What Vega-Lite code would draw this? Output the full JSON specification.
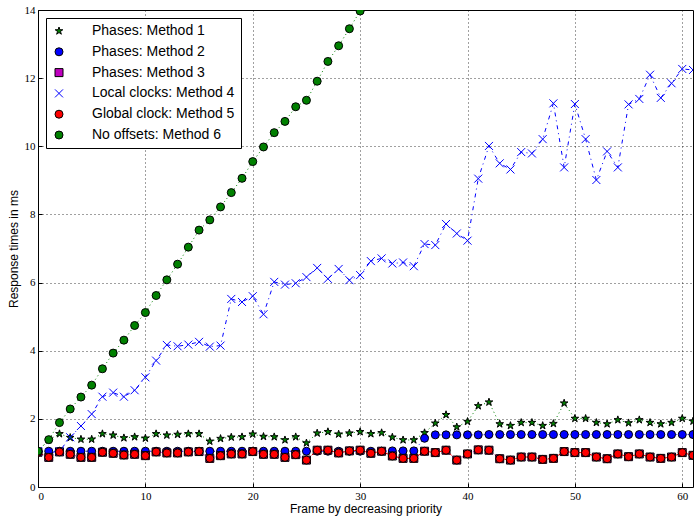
{
  "$schema": "https://vega.github.io/schema/vega-lite/v6.json",
  "width": 655,
  "height": 477,
  "autosize": {"type": "none"},
  "padding": {"left": 38, "top": 10, "right": 4, "bottom": 29},
  "background": "white",
  "config": {
    "view": {"stroke": "black", "strokeWidth": 1},
    "axis": {
      "grid": true,
      "gridColor": "#000000",
      "gridDash": [1, 3],
      "gridOpacity": 0.75,
      "gridWidth": 1,
      "domain": false,
      "ticks": true,
      "tickColor": "black",
      "tickSize": -4,
      "labelFont": "Liberation Serif",
      "labelFontSize": 11,
      "labelColor": "black",
      "titleFont": "Liberation Sans",
      "titleFontSize": 12,
      "titleFontWeight": "normal",
      "titleColor": "black"
    },
    "legend": {
      "orient": "top-left",
      "offset": 8,
      "padding": 6,
      "fillColor": "white",
      "strokeColor": "black",
      "strokeWidth": 1,
      "labelFont": "Liberation Sans",
      "labelFontSize": 14,
      "labelColor": "black",
      "labelOffset": 26,
      "symbolSize": 64,
      "symbolStrokeWidth": 1,
      "rowPadding": 6.8,
      "labelLimit": 300
    }
  },
  "datasets": {
    "times": [
      {"frame": 0, "method": "Phases: Method 1", "ms": 1.05},
      {"frame": 1, "method": "Phases: Method 1", "ms": 1.38},
      {"frame": 2, "method": "Phases: Method 1", "ms": 1.56},
      {"frame": 3, "method": "Phases: Method 1", "ms": 1.45},
      {"frame": 4, "method": "Phases: Method 1", "ms": 1.40},
      {"frame": 5, "method": "Phases: Method 1", "ms": 1.40},
      {"frame": 6, "method": "Phases: Method 1", "ms": 1.56},
      {"frame": 7, "method": "Phases: Method 1", "ms": 1.52},
      {"frame": 8, "method": "Phases: Method 1", "ms": 1.44},
      {"frame": 9, "method": "Phases: Method 1", "ms": 1.47},
      {"frame": 10, "method": "Phases: Method 1", "ms": 1.43},
      {"frame": 11, "method": "Phases: Method 1", "ms": 1.56},
      {"frame": 12, "method": "Phases: Method 1", "ms": 1.52},
      {"frame": 13, "method": "Phases: Method 1", "ms": 1.54},
      {"frame": 14, "method": "Phases: Method 1", "ms": 1.56},
      {"frame": 15, "method": "Phases: Method 1", "ms": 1.56},
      {"frame": 16, "method": "Phases: Method 1", "ms": 1.34},
      {"frame": 17, "method": "Phases: Method 1", "ms": 1.42},
      {"frame": 18, "method": "Phases: Method 1", "ms": 1.46},
      {"frame": 19, "method": "Phases: Method 1", "ms": 1.47},
      {"frame": 20, "method": "Phases: Method 1", "ms": 1.55},
      {"frame": 21, "method": "Phases: Method 1", "ms": 1.48},
      {"frame": 22, "method": "Phases: Method 1", "ms": 1.47},
      {"frame": 23, "method": "Phases: Method 1", "ms": 1.38},
      {"frame": 24, "method": "Phases: Method 1", "ms": 1.47},
      {"frame": 25, "method": "Phases: Method 1", "ms": 1.29},
      {"frame": 26, "method": "Phases: Method 1", "ms": 1.58},
      {"frame": 27, "method": "Phases: Method 1", "ms": 1.62},
      {"frame": 28, "method": "Phases: Method 1", "ms": 1.55},
      {"frame": 29, "method": "Phases: Method 1", "ms": 1.58},
      {"frame": 30, "method": "Phases: Method 1", "ms": 1.62},
      {"frame": 31, "method": "Phases: Method 1", "ms": 1.56},
      {"frame": 32, "method": "Phases: Method 1", "ms": 1.59},
      {"frame": 33, "method": "Phases: Method 1", "ms": 1.46},
      {"frame": 34, "method": "Phases: Method 1", "ms": 1.38},
      {"frame": 35, "method": "Phases: Method 1", "ms": 1.38},
      {"frame": 36, "method": "Phases: Method 1", "ms": 1.59},
      {"frame": 37, "method": "Phases: Method 1", "ms": 1.87},
      {"frame": 38, "method": "Phases: Method 1", "ms": 2.12},
      {"frame": 39, "method": "Phases: Method 1", "ms": 1.76},
      {"frame": 40, "method": "Phases: Method 1", "ms": 1.92},
      {"frame": 41, "method": "Phases: Method 1", "ms": 2.38},
      {"frame": 42, "method": "Phases: Method 1", "ms": 2.49},
      {"frame": 43, "method": "Phases: Method 1", "ms": 1.85},
      {"frame": 44, "method": "Phases: Method 1", "ms": 1.80},
      {"frame": 45, "method": "Phases: Method 1", "ms": 1.89},
      {"frame": 46, "method": "Phases: Method 1", "ms": 1.89},
      {"frame": 47, "method": "Phases: Method 1", "ms": 1.80},
      {"frame": 48, "method": "Phases: Method 1", "ms": 1.86},
      {"frame": 49, "method": "Phases: Method 1", "ms": 2.46},
      {"frame": 50, "method": "Phases: Method 1", "ms": 2.01},
      {"frame": 51, "method": "Phases: Method 1", "ms": 2.01},
      {"frame": 52, "method": "Phases: Method 1", "ms": 1.89},
      {"frame": 53, "method": "Phases: Method 1", "ms": 1.85},
      {"frame": 54, "method": "Phases: Method 1", "ms": 1.97},
      {"frame": 55, "method": "Phases: Method 1", "ms": 1.88},
      {"frame": 56, "method": "Phases: Method 1", "ms": 1.97},
      {"frame": 57, "method": "Phases: Method 1", "ms": 1.89},
      {"frame": 58, "method": "Phases: Method 1", "ms": 1.85},
      {"frame": 59, "method": "Phases: Method 1", "ms": 1.89},
      {"frame": 60, "method": "Phases: Method 1", "ms": 2.01},
      {"frame": 61, "method": "Phases: Method 1", "ms": 1.93},

      {"frame": 0, "method": "Phases: Method 2", "ms": 1.05},
      {"frame": 1, "method": "Phases: Method 2", "ms": 1.05},
      {"frame": 2, "method": "Phases: Method 2", "ms": 1.05},
      {"frame": 3, "method": "Phases: Method 2", "ms": 1.05},
      {"frame": 4, "method": "Phases: Method 2", "ms": 1.05},
      {"frame": 5, "method": "Phases: Method 2", "ms": 1.05},
      {"frame": 6, "method": "Phases: Method 2", "ms": 1.05},
      {"frame": 7, "method": "Phases: Method 2", "ms": 1.05},
      {"frame": 8, "method": "Phases: Method 2", "ms": 1.05},
      {"frame": 9, "method": "Phases: Method 2", "ms": 1.05},
      {"frame": 10, "method": "Phases: Method 2", "ms": 1.05},
      {"frame": 11, "method": "Phases: Method 2", "ms": 1.05},
      {"frame": 12, "method": "Phases: Method 2", "ms": 1.05},
      {"frame": 13, "method": "Phases: Method 2", "ms": 1.05},
      {"frame": 14, "method": "Phases: Method 2", "ms": 1.05},
      {"frame": 15, "method": "Phases: Method 2", "ms": 1.05},
      {"frame": 16, "method": "Phases: Method 2", "ms": 1.05},
      {"frame": 17, "method": "Phases: Method 2", "ms": 1.05},
      {"frame": 18, "method": "Phases: Method 2", "ms": 1.05},
      {"frame": 19, "method": "Phases: Method 2", "ms": 1.05},
      {"frame": 20, "method": "Phases: Method 2", "ms": 1.05},
      {"frame": 21, "method": "Phases: Method 2", "ms": 1.05},
      {"frame": 22, "method": "Phases: Method 2", "ms": 1.05},
      {"frame": 23, "method": "Phases: Method 2", "ms": 1.05},
      {"frame": 24, "method": "Phases: Method 2", "ms": 1.05},
      {"frame": 25, "method": "Phases: Method 2", "ms": 1.05},
      {"frame": 26, "method": "Phases: Method 2", "ms": 1.05},
      {"frame": 27, "method": "Phases: Method 2", "ms": 1.05},
      {"frame": 28, "method": "Phases: Method 2", "ms": 1.05},
      {"frame": 29, "method": "Phases: Method 2", "ms": 1.05},
      {"frame": 30, "method": "Phases: Method 2", "ms": 1.05},
      {"frame": 31, "method": "Phases: Method 2", "ms": 1.05},
      {"frame": 32, "method": "Phases: Method 2", "ms": 1.05},
      {"frame": 33, "method": "Phases: Method 2", "ms": 1.06},
      {"frame": 34, "method": "Phases: Method 2", "ms": 1.06},
      {"frame": 35, "method": "Phases: Method 2", "ms": 1.06},
      {"frame": 36, "method": "Phases: Method 2", "ms": 1.43},
      {"frame": 37, "method": "Phases: Method 2", "ms": 1.53},
      {"frame": 38, "method": "Phases: Method 2", "ms": 1.53},
      {"frame": 39, "method": "Phases: Method 2", "ms": 1.53},
      {"frame": 40, "method": "Phases: Method 2", "ms": 1.53},
      {"frame": 41, "method": "Phases: Method 2", "ms": 1.53},
      {"frame": 42, "method": "Phases: Method 2", "ms": 1.54},
      {"frame": 43, "method": "Phases: Method 2", "ms": 1.54},
      {"frame": 44, "method": "Phases: Method 2", "ms": 1.54},
      {"frame": 45, "method": "Phases: Method 2", "ms": 1.54},
      {"frame": 46, "method": "Phases: Method 2", "ms": 1.54},
      {"frame": 47, "method": "Phases: Method 2", "ms": 1.54},
      {"frame": 48, "method": "Phases: Method 2", "ms": 1.54},
      {"frame": 49, "method": "Phases: Method 2", "ms": 1.54},
      {"frame": 50, "method": "Phases: Method 2", "ms": 1.54},
      {"frame": 51, "method": "Phases: Method 2", "ms": 1.54},
      {"frame": 52, "method": "Phases: Method 2", "ms": 1.54},
      {"frame": 53, "method": "Phases: Method 2", "ms": 1.54},
      {"frame": 54, "method": "Phases: Method 2", "ms": 1.54},
      {"frame": 55, "method": "Phases: Method 2", "ms": 1.54},
      {"frame": 56, "method": "Phases: Method 2", "ms": 1.54},
      {"frame": 57, "method": "Phases: Method 2", "ms": 1.54},
      {"frame": 58, "method": "Phases: Method 2", "ms": 1.54},
      {"frame": 59, "method": "Phases: Method 2", "ms": 1.54},
      {"frame": 60, "method": "Phases: Method 2", "ms": 1.54},
      {"frame": 61, "method": "Phases: Method 2", "ms": 1.54},

      {"frame": 0, "method": "Phases: Method 3", "ms": 1.02},
      {"frame": 1, "method": "Phases: Method 3", "ms": 0.87},
      {"frame": 2, "method": "Phases: Method 3", "ms": 1.03},
      {"frame": 3, "method": "Phases: Method 3", "ms": 0.96},
      {"frame": 4, "method": "Phases: Method 3", "ms": 0.87},
      {"frame": 5, "method": "Phases: Method 3", "ms": 0.87},
      {"frame": 6, "method": "Phases: Method 3", "ms": 1.02},
      {"frame": 7, "method": "Phases: Method 3", "ms": 0.99},
      {"frame": 8, "method": "Phases: Method 3", "ms": 0.94},
      {"frame": 9, "method": "Phases: Method 3", "ms": 0.96},
      {"frame": 10, "method": "Phases: Method 3", "ms": 0.92},
      {"frame": 11, "method": "Phases: Method 3", "ms": 1.03},
      {"frame": 12, "method": "Phases: Method 3", "ms": 1.00},
      {"frame": 13, "method": "Phases: Method 3", "ms": 1.00},
      {"frame": 14, "method": "Phases: Method 3", "ms": 1.03},
      {"frame": 15, "method": "Phases: Method 3", "ms": 1.04},
      {"frame": 16, "method": "Phases: Method 3", "ms": 0.84},
      {"frame": 17, "method": "Phases: Method 3", "ms": 0.92},
      {"frame": 18, "method": "Phases: Method 3", "ms": 0.97},
      {"frame": 19, "method": "Phases: Method 3", "ms": 0.97},
      {"frame": 20, "method": "Phases: Method 3", "ms": 1.04},
      {"frame": 21, "method": "Phases: Method 3", "ms": 0.96},
      {"frame": 22, "method": "Phases: Method 3", "ms": 0.96},
      {"frame": 23, "method": "Phases: Method 3", "ms": 0.87},
      {"frame": 24, "method": "Phases: Method 3", "ms": 0.95},
      {"frame": 25, "method": "Phases: Method 3", "ms": 0.79},
      {"frame": 26, "method": "Phases: Method 3", "ms": 1.08},
      {"frame": 27, "method": "Phases: Method 3", "ms": 1.08},
      {"frame": 28, "method": "Phases: Method 3", "ms": 1.00},
      {"frame": 29, "method": "Phases: Method 3", "ms": 1.06},
      {"frame": 30, "method": "Phases: Method 3", "ms": 1.08},
      {"frame": 31, "method": "Phases: Method 3", "ms": 0.99},
      {"frame": 32, "method": "Phases: Method 3", "ms": 1.05},
      {"frame": 33, "method": "Phases: Method 3", "ms": 0.91},
      {"frame": 34, "method": "Phases: Method 3", "ms": 0.84},
      {"frame": 35, "method": "Phases: Method 3", "ms": 0.84},
      {"frame": 36, "method": "Phases: Method 3", "ms": 1.05},
      {"frame": 37, "method": "Phases: Method 3", "ms": 1.01},
      {"frame": 38, "method": "Phases: Method 3", "ms": 1.08},
      {"frame": 39, "method": "Phases: Method 3", "ms": 0.79},
      {"frame": 40, "method": "Phases: Method 3", "ms": 0.97},
      {"frame": 41, "method": "Phases: Method 3", "ms": 1.09},
      {"frame": 42, "method": "Phases: Method 3", "ms": 1.08},
      {"frame": 43, "method": "Phases: Method 3", "ms": 0.83},
      {"frame": 44, "method": "Phases: Method 3", "ms": 0.79},
      {"frame": 45, "method": "Phases: Method 3", "ms": 0.88},
      {"frame": 46, "method": "Phases: Method 3", "ms": 0.88},
      {"frame": 47, "method": "Phases: Method 3", "ms": 0.81},
      {"frame": 48, "method": "Phases: Method 3", "ms": 0.84},
      {"frame": 49, "method": "Phases: Method 3", "ms": 1.04},
      {"frame": 50, "method": "Phases: Method 3", "ms": 1.01},
      {"frame": 51, "method": "Phases: Method 3", "ms": 1.01},
      {"frame": 52, "method": "Phases: Method 3", "ms": 0.88},
      {"frame": 53, "method": "Phases: Method 3", "ms": 0.83},
      {"frame": 54, "method": "Phases: Method 3", "ms": 0.97},
      {"frame": 55, "method": "Phases: Method 3", "ms": 0.89},
      {"frame": 56, "method": "Phases: Method 3", "ms": 0.97},
      {"frame": 57, "method": "Phases: Method 3", "ms": 0.88},
      {"frame": 58, "method": "Phases: Method 3", "ms": 0.84},
      {"frame": 59, "method": "Phases: Method 3", "ms": 0.88},
      {"frame": 60, "method": "Phases: Method 3", "ms": 1.01},
      {"frame": 61, "method": "Phases: Method 3", "ms": 0.93},

      {"frame": 0, "method": "Local clocks: Method 4", "ms": 1.05},
      {"frame": 1, "method": "Local clocks: Method 4", "ms": 1.00},
      {"frame": 2, "method": "Local clocks: Method 4", "ms": 1.05},
      {"frame": 3, "method": "Local clocks: Method 4", "ms": 1.46},
      {"frame": 4, "method": "Local clocks: Method 4", "ms": 1.79},
      {"frame": 5, "method": "Local clocks: Method 4", "ms": 2.14},
      {"frame": 6, "method": "Local clocks: Method 4", "ms": 2.65},
      {"frame": 7, "method": "Local clocks: Method 4", "ms": 2.77},
      {"frame": 8, "method": "Local clocks: Method 4", "ms": 2.65},
      {"frame": 9, "method": "Local clocks: Method 4", "ms": 2.84},
      {"frame": 10, "method": "Local clocks: Method 4", "ms": 3.22},
      {"frame": 11, "method": "Local clocks: Method 4", "ms": 3.71},
      {"frame": 12, "method": "Local clocks: Method 4", "ms": 4.17},
      {"frame": 13, "method": "Local clocks: Method 4", "ms": 4.13},
      {"frame": 14, "method": "Local clocks: Method 4", "ms": 4.18},
      {"frame": 15, "method": "Local clocks: Method 4", "ms": 4.26},
      {"frame": 16, "method": "Local clocks: Method 4", "ms": 4.12},
      {"frame": 17, "method": "Local clocks: Method 4", "ms": 4.15},
      {"frame": 18, "method": "Local clocks: Method 4", "ms": 5.52},
      {"frame": 19, "method": "Local clocks: Method 4", "ms": 5.43},
      {"frame": 20, "method": "Local clocks: Method 4", "ms": 5.60},
      {"frame": 21, "method": "Local clocks: Method 4", "ms": 5.07},
      {"frame": 22, "method": "Local clocks: Method 4", "ms": 6.02},
      {"frame": 23, "method": "Local clocks: Method 4", "ms": 5.94},
      {"frame": 24, "method": "Local clocks: Method 4", "ms": 5.98},
      {"frame": 25, "method": "Local clocks: Method 4", "ms": 6.16},
      {"frame": 26, "method": "Local clocks: Method 4", "ms": 6.43},
      {"frame": 27, "method": "Local clocks: Method 4", "ms": 6.11},
      {"frame": 28, "method": "Local clocks: Method 4", "ms": 6.40},
      {"frame": 29, "method": "Local clocks: Method 4", "ms": 6.07},
      {"frame": 30, "method": "Local clocks: Method 4", "ms": 6.22},
      {"frame": 31, "method": "Local clocks: Method 4", "ms": 6.63},
      {"frame": 32, "method": "Local clocks: Method 4", "ms": 6.71},
      {"frame": 33, "method": "Local clocks: Method 4", "ms": 6.56},
      {"frame": 34, "method": "Local clocks: Method 4", "ms": 6.59},
      {"frame": 35, "method": "Local clocks: Method 4", "ms": 6.48},
      {"frame": 36, "method": "Local clocks: Method 4", "ms": 7.13},
      {"frame": 37, "method": "Local clocks: Method 4", "ms": 7.10},
      {"frame": 38, "method": "Local clocks: Method 4", "ms": 7.72},
      {"frame": 39, "method": "Local clocks: Method 4", "ms": 7.44},
      {"frame": 40, "method": "Local clocks: Method 4", "ms": 7.23},
      {"frame": 41, "method": "Local clocks: Method 4", "ms": 9.05},
      {"frame": 42, "method": "Local clocks: Method 4", "ms": 10.01},
      {"frame": 43, "method": "Local clocks: Method 4", "ms": 9.50},
      {"frame": 44, "method": "Local clocks: Method 4", "ms": 9.32},
      {"frame": 45, "method": "Local clocks: Method 4", "ms": 9.83},
      {"frame": 46, "method": "Local clocks: Method 4", "ms": 9.79},
      {"frame": 47, "method": "Local clocks: Method 4", "ms": 10.21},
      {"frame": 48, "method": "Local clocks: Method 4", "ms": 11.26},
      {"frame": 49, "method": "Local clocks: Method 4", "ms": 9.38},
      {"frame": 50, "method": "Local clocks: Method 4", "ms": 11.24},
      {"frame": 51, "method": "Local clocks: Method 4", "ms": 10.21},
      {"frame": 52, "method": "Local clocks: Method 4", "ms": 9.01},
      {"frame": 53, "method": "Local clocks: Method 4", "ms": 9.85},
      {"frame": 54, "method": "Local clocks: Method 4", "ms": 9.38},
      {"frame": 55, "method": "Local clocks: Method 4", "ms": 11.23},
      {"frame": 56, "method": "Local clocks: Method 4", "ms": 11.39},
      {"frame": 57, "method": "Local clocks: Method 4", "ms": 12.10},
      {"frame": 58, "method": "Local clocks: Method 4", "ms": 11.42},
      {"frame": 59, "method": "Local clocks: Method 4", "ms": 11.85},
      {"frame": 60, "method": "Local clocks: Method 4", "ms": 12.27},
      {"frame": 61, "method": "Local clocks: Method 4", "ms": 12.24},

      {"frame": 0, "method": "Global clock: Method 5", "ms": 1.02},
      {"frame": 1, "method": "Global clock: Method 5", "ms": 0.87},
      {"frame": 2, "method": "Global clock: Method 5", "ms": 1.03},
      {"frame": 3, "method": "Global clock: Method 5", "ms": 0.96},
      {"frame": 4, "method": "Global clock: Method 5", "ms": 0.87},
      {"frame": 5, "method": "Global clock: Method 5", "ms": 0.87},
      {"frame": 6, "method": "Global clock: Method 5", "ms": 1.02},
      {"frame": 7, "method": "Global clock: Method 5", "ms": 0.99},
      {"frame": 8, "method": "Global clock: Method 5", "ms": 0.94},
      {"frame": 9, "method": "Global clock: Method 5", "ms": 0.96},
      {"frame": 10, "method": "Global clock: Method 5", "ms": 0.92},
      {"frame": 11, "method": "Global clock: Method 5", "ms": 1.03},
      {"frame": 12, "method": "Global clock: Method 5", "ms": 1.00},
      {"frame": 13, "method": "Global clock: Method 5", "ms": 1.00},
      {"frame": 14, "method": "Global clock: Method 5", "ms": 1.03},
      {"frame": 15, "method": "Global clock: Method 5", "ms": 1.04},
      {"frame": 16, "method": "Global clock: Method 5", "ms": 0.84},
      {"frame": 17, "method": "Global clock: Method 5", "ms": 0.92},
      {"frame": 18, "method": "Global clock: Method 5", "ms": 0.97},
      {"frame": 19, "method": "Global clock: Method 5", "ms": 0.97},
      {"frame": 20, "method": "Global clock: Method 5", "ms": 1.04},
      {"frame": 21, "method": "Global clock: Method 5", "ms": 0.96},
      {"frame": 22, "method": "Global clock: Method 5", "ms": 0.96},
      {"frame": 23, "method": "Global clock: Method 5", "ms": 0.87},
      {"frame": 24, "method": "Global clock: Method 5", "ms": 0.95},
      {"frame": 25, "method": "Global clock: Method 5", "ms": 0.79},
      {"frame": 26, "method": "Global clock: Method 5", "ms": 1.08},
      {"frame": 27, "method": "Global clock: Method 5", "ms": 1.08},
      {"frame": 28, "method": "Global clock: Method 5", "ms": 1.00},
      {"frame": 29, "method": "Global clock: Method 5", "ms": 1.06},
      {"frame": 30, "method": "Global clock: Method 5", "ms": 1.08},
      {"frame": 31, "method": "Global clock: Method 5", "ms": 0.99},
      {"frame": 32, "method": "Global clock: Method 5", "ms": 1.05},
      {"frame": 33, "method": "Global clock: Method 5", "ms": 0.91},
      {"frame": 34, "method": "Global clock: Method 5", "ms": 0.84},
      {"frame": 35, "method": "Global clock: Method 5", "ms": 0.84},
      {"frame": 36, "method": "Global clock: Method 5", "ms": 1.05},
      {"frame": 37, "method": "Global clock: Method 5", "ms": 1.01},
      {"frame": 38, "method": "Global clock: Method 5", "ms": 1.08},
      {"frame": 39, "method": "Global clock: Method 5", "ms": 0.79},
      {"frame": 40, "method": "Global clock: Method 5", "ms": 0.97},
      {"frame": 41, "method": "Global clock: Method 5", "ms": 1.09},
      {"frame": 42, "method": "Global clock: Method 5", "ms": 1.08},
      {"frame": 43, "method": "Global clock: Method 5", "ms": 0.83},
      {"frame": 44, "method": "Global clock: Method 5", "ms": 0.79},
      {"frame": 45, "method": "Global clock: Method 5", "ms": 0.88},
      {"frame": 46, "method": "Global clock: Method 5", "ms": 0.88},
      {"frame": 47, "method": "Global clock: Method 5", "ms": 0.81},
      {"frame": 48, "method": "Global clock: Method 5", "ms": 0.84},
      {"frame": 49, "method": "Global clock: Method 5", "ms": 1.04},
      {"frame": 50, "method": "Global clock: Method 5", "ms": 1.01},
      {"frame": 51, "method": "Global clock: Method 5", "ms": 1.01},
      {"frame": 52, "method": "Global clock: Method 5", "ms": 0.88},
      {"frame": 53, "method": "Global clock: Method 5", "ms": 0.83},
      {"frame": 54, "method": "Global clock: Method 5", "ms": 0.97},
      {"frame": 55, "method": "Global clock: Method 5", "ms": 0.89},
      {"frame": 56, "method": "Global clock: Method 5", "ms": 0.97},
      {"frame": 57, "method": "Global clock: Method 5", "ms": 0.88},
      {"frame": 58, "method": "Global clock: Method 5", "ms": 0.84},
      {"frame": 59, "method": "Global clock: Method 5", "ms": 0.88},
      {"frame": 60, "method": "Global clock: Method 5", "ms": 1.01},
      {"frame": 61, "method": "Global clock: Method 5", "ms": 0.93},

      {"frame": 0, "method": "No offsets: Method 6", "ms": 1.05},
      {"frame": 1, "method": "No offsets: Method 6", "ms": 1.39},
      {"frame": 2, "method": "No offsets: Method 6", "ms": 1.89},
      {"frame": 3, "method": "No offsets: Method 6", "ms": 2.29},
      {"frame": 4, "method": "No offsets: Method 6", "ms": 2.64},
      {"frame": 5, "method": "No offsets: Method 6", "ms": 2.99},
      {"frame": 6, "method": "No offsets: Method 6", "ms": 3.47},
      {"frame": 7, "method": "No offsets: Method 6", "ms": 3.93},
      {"frame": 8, "method": "No offsets: Method 6", "ms": 4.31},
      {"frame": 9, "method": "No offsets: Method 6", "ms": 4.74},
      {"frame": 10, "method": "No offsets: Method 6", "ms": 5.12},
      {"frame": 11, "method": "No offsets: Method 6", "ms": 5.62},
      {"frame": 12, "method": "No offsets: Method 6", "ms": 6.08},
      {"frame": 13, "method": "No offsets: Method 6", "ms": 6.54},
      {"frame": 14, "method": "No offsets: Method 6", "ms": 7.04},
      {"frame": 15, "method": "No offsets: Method 6", "ms": 7.54},
      {"frame": 16, "method": "No offsets: Method 6", "ms": 7.84},
      {"frame": 17, "method": "No offsets: Method 6", "ms": 8.22},
      {"frame": 18, "method": "No offsets: Method 6", "ms": 8.64},
      {"frame": 19, "method": "No offsets: Method 6", "ms": 9.06},
      {"frame": 20, "method": "No offsets: Method 6", "ms": 9.55},
      {"frame": 21, "method": "No offsets: Method 6", "ms": 9.98},
      {"frame": 22, "method": "No offsets: Method 6", "ms": 10.40},
      {"frame": 23, "method": "No offsets: Method 6", "ms": 10.73},
      {"frame": 24, "method": "No offsets: Method 6", "ms": 11.16},
      {"frame": 25, "method": "No offsets: Method 6", "ms": 11.35},
      {"frame": 26, "method": "No offsets: Method 6", "ms": 11.91},
      {"frame": 27, "method": "No offsets: Method 6", "ms": 12.49},
      {"frame": 28, "method": "No offsets: Method 6", "ms": 12.95},
      {"frame": 29, "method": "No offsets: Method 6", "ms": 13.45},
      {"frame": 30, "method": "No offsets: Method 6", "ms": 13.97}
    ]
  },
  "data": {"name": "times"},
  "encoding": {
    "x": {
      "field": "frame",
      "type": "quantitative",
      "title": "Frame by decreasing priority",
      "scale": {"domain": [0, 61], "nice": false, "zero": false},
      "axis": {"values": [0, 10, 20, 30, 40, 50, 60], "labelPadding": 7, "titlePadding": 2}
    },
    "y": {
      "field": "ms",
      "type": "quantitative",
      "title": "Response times in ms",
      "scale": {"domain": [0, 14], "nice": false},
      "axis": {"values": [0, 2, 4, 6, 8, 10, 12, 14], "labelPadding": 7, "titlePadding": 4}
    }
  },
  "layer": [
    {
      "transform": [{"filter": "datum.method === 'Phases: Method 1'"}],
      "mark": {"type": "line", "color": "#008000", "strokeWidth": 1, "strokeDash": [1, 3], "clip": true}
    },
    {
      "transform": [{"filter": "datum.method === 'Phases: Method 2'"}],
      "mark": {"type": "line", "color": "#0000ff", "strokeWidth": 1, "strokeDash": [1, 3], "clip": true}
    },
    {
      "transform": [{"filter": "datum.method === 'Phases: Method 3'"}],
      "mark": {"type": "line", "color": "#bf00bf", "strokeWidth": 1, "strokeDash": [1, 3], "clip": true}
    },
    {
      "transform": [{"filter": "datum.method === 'Local clocks: Method 4'"}],
      "mark": {"type": "line", "color": "#0000ff", "strokeWidth": 1, "strokeDash": [4, 4, 1, 4], "clip": true}
    },
    {
      "transform": [{"filter": "datum.method === 'Global clock: Method 5'"}],
      "mark": {"type": "line", "color": "#ff0000", "strokeWidth": 1, "strokeDash": [6, 5], "clip": true}
    },
    {
      "transform": [{"filter": "datum.method === 'No offsets: Method 6'"}],
      "mark": {"type": "line", "color": "#008000", "strokeWidth": 1, "strokeDash": [1, 3], "clip": true}
    },
    {
      "mark": {"type": "point", "filled": true, "opacity": 1, "strokeWidth": 1, "size": 64, "clip": true},
      "encoding": {
        "shape": {
          "field": "method",
          "type": "nominal",
          "title": null,
          "scale": {
            "domain": ["Phases: Method 1", "Phases: Method 2", "Phases: Method 3", "Local clocks: Method 4", "Global clock: Method 5", "No offsets: Method 6"],
            "range": [
              "M0,-1L0.2245,-0.309L0.9511,-0.309L0.3633,0.118L0.5878,0.809L0,0.382L-0.5878,0.809L-0.3633,0.118L-0.9511,-0.309L-0.2245,-0.309Z",
              "circle",
              "square",
              "M-1,-1L1,1M-1,1L1,-1",
              "circle",
              "circle"
            ]
          }
        },
        "fill": {
          "field": "method",
          "type": "nominal",
          "title": null,
          "scale": {
            "domain": ["Phases: Method 1", "Phases: Method 2", "Phases: Method 3", "Local clocks: Method 4", "Global clock: Method 5", "No offsets: Method 6"],
            "range": ["#008000", "#0000ff", "#bf00bf", "#0000ff", "#ff0000", "#008000"]
          }
        },
        "stroke": {
          "field": "method",
          "type": "nominal",
          "title": null,
          "scale": {
            "domain": ["Phases: Method 1", "Phases: Method 2", "Phases: Method 3", "Local clocks: Method 4", "Global clock: Method 5", "No offsets: Method 6"],
            "range": ["#000000", "#000000", "#000000", "#0000ff", "#000000", "#000000"]
          }
        }
      }
    }
  ]
}
